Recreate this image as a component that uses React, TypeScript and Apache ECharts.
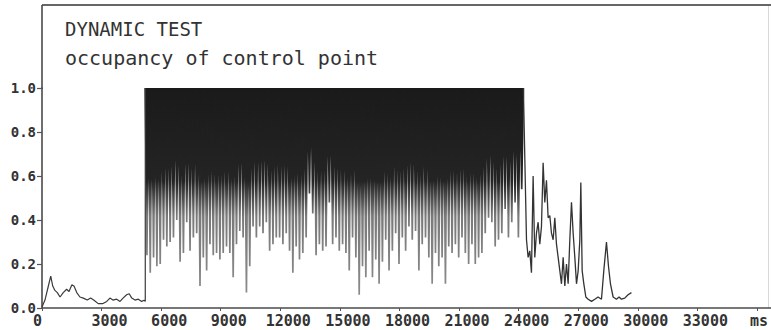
import React, { useEffect, useRef } from "react";
import * as echarts from "echarts";

// ---- axis ticks ----
const xTicks = [0, 3000, 6000, 9000, 12000, 15000, 18000, 21000, 24000, 27000, 30000, 33000, 36000];
const yTicks = [0, 0.2, 0.4, 0.6, 0.8, 1.0];

// ---- titles ----
const titleLine1 = "DYNAMIC TEST";
const titleLine2 = "occupancy of control point";
const unitLabel = "ms";

// ---- phase 1: idle period before the test (ms, occupancy) ----
const preTimes = [0, 150, 320, 440, 540, 650, 770, 910, 1070, 1240, 1360, 1500, 1610, 1750, 1910, 2080, 2280, 2450, 2620, 2830, 3070, 3260, 3420, 3570, 3760, 3930, 4080, 4260, 4390, 4520, 4680, 4850, 5020, 5140, 5200];
const preValues = [0.005, 0.036, 0.1, 0.145, 0.1, 0.08, 0.07, 0.05, 0.07, 0.085, 0.075, 0.105, 0.1, 0.07, 0.05, 0.045, 0.036, 0.045, 0.035, 0.02, 0.02, 0.03, 0.045, 0.036, 0.04, 0.03, 0.045, 0.06, 0.065, 0.045, 0.036, 0.04, 0.03, 0.035, 0.03];

// ---- phase 2: saturated burst, occupancy 1.0 with short drops (one drop per sample period) ----
const burstStart = 5200; // ms
const burstPeriod = 167; // ms per sample
const burstHigh = 1.0;
const burstLows = [
  0.24, 0.16, 0.23, 0.19, 0.2, 0.31, 0.28, 0.3, 0.32, 0.4,
  0.21, 0.25, 0.39, 0.26, 0.32, 0.34, 0.1, 0.23, 0.17, 0.29,
  0.24, 0.25, 0.22, 0.25, 0.28, 0.25, 0.14, 0.29, 0.35, 0.32,
  0.07, 0.19, 0.37, 0.32, 0.37, 0.34, 0.39, 0.26, 0.29, 0.32,
  0.32, 0.29, 0.34, 0.26, 0.16, 0.28, 0.22, 0.25, 0.32, 0.52,
  0.43, 0.24, 0.29, 0.26, 0.28, 0.48, 0.29, 0.32, 0.26, 0.29,
  0.25, 0.17, 0.32, 0.23, 0.06, 0.19, 0.14, 0.26, 0.14, 0.22,
  0.11, 0.21, 0.31, 0.17, 0.26, 0.34, 0.2, 0.32, 0.26, 0.37,
  0.31, 0.35, 0.17, 0.29, 0.32, 0.23, 0.11, 0.25, 0.19, 0.23,
  0.11, 0.28, 0.25, 0.29, 0.23, 0.32, 0.25, 0.2, 0.29, 0.2,
  0.23, 0.25, 0.34, 0.41, 0.39, 0.28, 0.31, 0.34, 0.45, 0.32,
  0.39, 0.48, 0.32, 0.54,
];

// ---- phase 3: decay after the burst ----
const tailTimes = [24395, 24477, 24561, 24645, 24729, 24813, 24897, 24981, 25065, 25149, 25233, 25317, 25401, 25485, 25569, 25653, 25737, 25821, 25905, 25989, 26073, 26157, 26241, 26325, 26409, 26493, 26577, 26661, 26745, 26829, 26913, 26997, 27081, 27131, 27198, 27282, 27383, 27500, 27668, 27836, 28000, 28170, 28288, 28422, 28523, 28623, 28757, 28925, 29056, 29175, 29342, 29510, 29678];
const tailValues = [0.31, 0.23, 0.26, 0.16, 0.6, 0.23, 0.34, 0.39, 0.29, 0.37, 0.66, 0.48, 0.58, 0.41, 0.42, 0.34, 0.31, 0.41, 0.29, 0.23, 0.17, 0.11, 0.23, 0.1, 0.2, 0.11, 0.31, 0.48, 0.34, 0.23, 0.11, 0.17, 0.31, 0.57, 0.17, 0.11, 0.05, 0.04, 0.03, 0.04, 0.05, 0.04, 0.17, 0.3, 0.19, 0.11, 0.05, 0.04, 0.05, 0.04, 0.045, 0.06, 0.07];

const MONO = '"DejaVu Sans Mono", "Liberation Mono", monospace';

function buildBurst(): [number, number][] {
  const pts: [number, number][] = [];
  burstLows.forEach((low, i) => {
    const t = burstStart + i * burstPeriod;
    pts.push([t, burstHigh]);
    pts.push([t + burstPeriod / 2, low]);
  });
  pts.push([burstStart + burstLows.length * burstPeriod, burstHigh]);
  return pts;
}

export default function App() {
  const ref = useRef<HTMLDivElement>(null);

  useEffect(() => {
    if (!ref.current) return;
    const chart = echarts.init(ref.current, undefined, { renderer: "svg" });

    const pre: [number, number][] = preTimes.map((t, i) => [t, preValues[i]]);
    const burst = buildBurst();
    const tail: [number, number][] = tailTimes.map((t, i) => [t, tailValues[i]]);
    const firstBurst = burst[0];
    const lastBurst = burst[burst.length - 1];

    const xLabelFmt = (v: number) => {
      if (v === 36000) return `{u|${unitLabel}}`;
      if (v % 3000 !== 0) return "";
      if (v === 0) return "{z|0}";
      return `{n|${v}}`;
    };

    const shade = () =>
      new echarts.graphic.LinearGradient(0, 0, 0, 1, [
        { offset: 0, color: "#1a1a1a" },
        { offset: 0.45, color: "#242424" },
        { offset: 0.62, color: "#7a7a7a" },
        { offset: 1, color: "#8a8a8a" },
      ]);

    chart.setOption({
      animation: false,
      backgroundColor: "#ffffff",
      grid: { left: 42, right: 0, top: 88, bottom: 22, containLabel: false },
      xAxis: {
        type: "value",
        min: 0,
        max: 36694,
        interval: 3000,
        axisLine: { show: true, lineStyle: { color: "#4a4a4a", width: 1.6 } },
        axisTick: {
          show: true,
          length: 3,
          customValues: xTicks,
          lineStyle: { color: "#555", width: 1 },
        },
        splitLine: { show: false },
        axisLabel: {
          customValues: xTicks,
          formatter: xLabelFmt,
          margin: 5,
          color: "#333",
          fontFamily: MONO,
          fontSize: 15,
          fontWeight: "bold",
          rich: {
            n: { fontFamily: MONO, fontSize: 15, fontWeight: "bold", color: "#333", padding: [0, 0, 0, 16] },
            z: { fontFamily: MONO, fontSize: 15, fontWeight: "bold", color: "#333", padding: [0, 9, 0, 0] },
            u: { fontFamily: MONO, fontSize: 15, fontWeight: "bold", color: "#333", padding: [0, 0, 0, 4] },
          },
        },
      },
      yAxis: {
        type: "value",
        min: 0,
        max: 1,
        interval: 0.2,
        axisLine: { show: true, lineStyle: { color: "#4a4a4a", width: 1.6 } },
        axisTick: { show: true, length: 5, customValues: yTicks, lineStyle: { color: "#555", width: 1.2 } },
        splitLine: { show: false },
        axisLabel: {
          customValues: yTicks,
          formatter: (v: number) => v.toFixed(1),
          margin: 6,
          color: "#333",
          fontFamily: MONO,
          fontSize: 14,
          fontWeight: "bold",
          padding: [0, 0, 8, 0],
        },
      },
      graphic: [
        { type: "line", shape: { x1: 42, y1: 5, x2: 771, y2: 5 }, style: { stroke: "#666", lineWidth: 2 } },
        { type: "line", shape: { x1: 42, y1: 5, x2: 42, y2: 89 }, style: { stroke: "#4a4a4a", lineWidth: 1.6 } },
        { type: "line", shape: { x1: 768.5, y1: 6, x2: 768.5, y2: 308 }, style: { stroke: "#d8d8d8", lineWidth: 1 } },
        {
          type: "text",
          style: { text: titleLine1, x: 65, y: 28.5, fill: "#333", font: `19px ${MONO}`, verticalAlign: "middle", align: "left" },
        },
        {
          type: "text",
          style: { text: titleLine2, x: 65, y: 58, fill: "#333", font: `20px ${MONO}`, verticalAlign: "middle", align: "left" },
        },
      ],
      series: [
        {
          name: "burst-fill",
          type: "line",
          data: burst,
          showSymbol: false,
          symbol: "none",
          lineStyle: { width: 0, opacity: 0 },
          areaStyle: { origin: "end", opacity: 1, color: shade() },
          z: 1,
          silent: true,
        },
        {
          name: "burst-line",
          type: "line",
          data: burst,
          showSymbol: false,
          symbol: "none",
          clip: false,
          lineStyle: { color: shade(), width: 1.7 },
          z: 2,
          silent: true,
        },
        {
          name: "before",
          type: "line",
          data: [...pre, firstBurst],
          showSymbol: false,
          symbol: "none",
          clip: false,
          lineStyle: { color: "#3a3a3a", width: 1.2 },
          z: 3,
          silent: true,
        },
        {
          name: "after",
          type: "line",
          data: [lastBurst, ...tail],
          showSymbol: false,
          symbol: "none",
          clip: false,
          lineStyle: { color: "#333", width: 1.3 },
          z: 3,
          silent: true,
        },
      ],
    });

    return () => chart.dispose();
  }, []);

  return (
    <div
      ref={ref}
      style={{ position: "fixed", left: 0, top: 0, width: 771, height: 330, background: "#fff" }}
    />
  );
}
